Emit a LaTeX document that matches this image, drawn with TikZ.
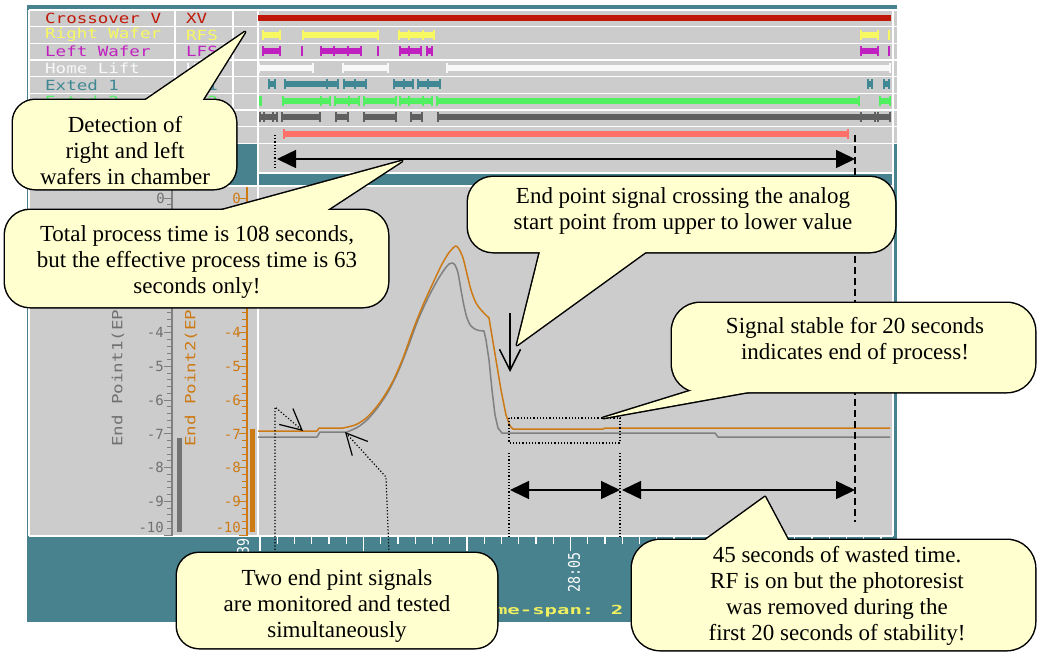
\documentclass[tikz,border=0pt]{standalone}
\usepackage{fontspec}
\usepackage{graphicx}
\setmainfont{Liberation Serif}
\newfontfamily\scrfont{DejaVu Sans Mono}
\usetikzlibrary{arrows.meta}

% screen colours
\definecolor{frame}{RGB}{72,130,142}
\definecolor{panel}{RGB}{204,204,204}
\definecolor{xvred}{RGB}{192,24,8}
\definecolor{rfy}{RGB}{248,248,96}
\definecolor{lfm}{RGB}{192,32,192}
\definecolor{hlw}{RGB}{248,248,248}
\definecolor{exa}{RGB}{64,136,148}
\definecolor{exb}{RGB}{80,240,96}
\definecolor{dkg}{RGB}{96,96,96}
\definecolor{sal}{RGB}{255,112,104}
\definecolor{epA}{RGB}{128,128,128}
\definecolor{epAtxt}{RGB}{112,112,112}
\definecolor{epB}{RGB}{204,122,20}
\definecolor{spanyel}{RGB}{240,240,96}
\definecolor{note}{RGB}{255,255,208}

% widened screen lettering
\newcommand\wide[2][1.25]{\scalebox{#1}[1]{#2}}
% one active segment of a track: colour, row centre, start, end
\newcommand\trkseg[4]{%
  \fill[#1] (#3,#2-3) rectangle (#4,#2+3);
  \fill[#1] (#3,#2-5) rectangle (#3+2,#2+5);
  \fill[#1] (#4-2,#2-5) rectangle (#4,#2+5);}
% tick inside a track segment
\newcommand\trktick[3]{\fill[#1] (#3-1,#2-5) rectangle (#3+1,#2+5);}
% speech bubble: body path, tail path
\newcommand\bubble[2]{%
  \draw[bubbleedge] #1; \draw[bubbleedge] #2;
  \fill[note] #1; \fill[note] #2;}
\newcommand\bubbleplain[1]{%
  \draw[bubbleedge] #1; \fill[note] #1;}

\begin{document}
\begin{tikzpicture}[x=1pt,y=-1pt,
  scr/.style={font=\scrfont\fontsize{14}{14}\selectfont, inner sep=0pt, anchor=west},
  axl/.style={font=\scrfont\fontsize{14}{14}\selectfont, inner sep=0pt, anchor=east},
  grid/.style={white, line width=1.5pt},
  bubbleedge/.style={draw=black, line width=3pt, line join=round},
  bubbletext/.style={font=\fontsize{23}{26}\selectfont, align=center, inner sep=0pt},
  dotline/.style={line width=1.2pt, dash pattern=on 1.2pt off 2pt},
  dimarrow/.style={line width=1.5pt, {Triangle[length=19pt,width=18pt]}-{Triangle[length=19pt,width=18pt]}},
  barb/.style={-{Straight Barb[length=21pt,width=21pt]}},
  trace/.style={line width=1.5pt, line join=round}]
\fill[white] (0,0) rectangle (1040,659);
\useasboundingbox (0,0) rectangle (1040,659);

% ---------- window frame and panels ----------
\fill[frame] (27,5) rectangle (897,622);
\fill[panel] (29,10) rectangle (897,143);
\fill[panel] (258,143) rectangle (893,173);
\fill[panel] (29,186) rectangle (893,536);
\foreach \y in {10,26.7,43.3,60,76.7,93.3,110,126.7,143.3}
  \draw[grid] (29,\y) -- (897,\y);
\draw[grid] (258,173) -- (893,173);
\draw[grid] (29,186) -- (893,186);
\draw[grid] (29,536) -- (893,536);
\draw[grid] (29,10) -- (29,536);
\draw[grid] (175,10) -- (175,143);
\draw[grid] (233,10) -- (233,143);
\draw[grid] (258,10) -- (258,536);
\draw[grid] (893,10) -- (893,536);

% ---------- track labels ----------
\node[scr, text=xvred] (nxv) at (45,18.3) {\wide{Crossover V}};
\node[scr, text=xvred] (cxv) at (186,18.3) {\wide{XV}};
\node[scr, text=rfy] (nrf) at (45,35) {\wide{Right Wafer}};
\node[scr, text=rfy] (crf) at (186,35) {\wide{RFS}};
\node[scr, text=lfm] (nlf) at (45,51.7) {\wide{Left Wafer}};
\node[scr, text=lfm] (clf) at (186,51.7) {\wide{LFS}};
\node[scr, text=hlw] (nhl) at (45,68.3) {\wide{Home Lift}};
\node[scr, text=hlw] (chl) at (186,68.3) {\wide{HL}};
\node[scr, text=exa] (nea) at (45,85) {\wide{Exted 1}};
\node[scr, text=exa] (cea) at (186,85) {\wide{EX1}};
\node[scr, text=exb] (neb) at (45,101.7) {\wide{Exted 2}};
\node[scr, text=exb] (ceb) at (186,101.7) {\wide{EX2}};

% ---------- tracks ----------
\fill[xvred] (258,15) rectangle (891,21);
\foreach \a/\b in {262/281,302/379,398/435,860/879,888/890} {\trkseg{rfy}{34.5}{\a}{\b}}
\foreach \t in {409,423} {\trktick{rfy}{34.5}{\t}}
\foreach \a/\b in {262/281,301/303,320/362,377/379,399/422,426/433,860/879,888/890} {\trkseg{lfm}{51}{\a}{\b}}
\foreach \t in {334,348,409} {\trktick{lfm}{51}{\t}}
\foreach \a/\b in {258/314,342/389,446/891} {\trkseg{hlw}{67.5}{\a}{\b}}
\foreach \a/\b in {268/276,284/339,343/367,393/414,417/441,867/873,883/890} {\trkseg{exa}{84}{\a}{\b}}
\foreach \t in {327,355,404,428} {\trktick{exa}{84}{\t}}
\foreach \a/\b in {259/262,282/331,334/360,363/397,399/433,436/860,879/891} {\trkseg{exb}{100.5}{\a}{\b}}
\foreach \t in {321,349,409,423} {\trktick{exb}{100.5}{\t}}
\foreach \a/\b in {259/278,281/321,335/349,363/397,410/423,437/891} {\trkseg{dkg}{117}{\a}{\b}}
\foreach \t in {264,273,861,875,878} {\trktick{dkg}{117}{\t}}
\trkseg{sal}{134}{283}{849}

% ---------- vertical scales ----------
\draw[epA, line width=1.2pt] (172,187) -- (172,536);
\draw[epB, line width=1.2pt] (247,187) -- (247,536);
\foreach \j in {0,...,50} {
  \draw[epA, line width=1pt] (167,198+6.74*\j) -- (172,198+6.74*\j);
  \draw[epB, line width=1pt] (242,198+6.74*\j) -- (247,198+6.74*\j);}
\foreach \k in {0,...,10} {
  \draw[epA, line width=1pt] (164,198+33.7*\k) -- (172,198+33.7*\k);
  \draw[epB, line width=1pt] (239,198+33.7*\k) -- (247,198+33.7*\k);}
\node[axl, text=epAtxt] (ga0) at (165,198) {0};
\node[axl, text=epB] (gb0) at (241,198) {0};
\foreach \k in {4,...,9} {
  \node[axl, text=epAtxt] (ga\k) at (164,198+33.7*\k) {-\k};
  \node[axl, text=epB] (gb\k) at (241,198+33.7*\k) {-\k};}
\node[axl, text=epAtxt] (ga10) at (164,527) {-10};
\node[axl, text=epB] (gb10) at (241,527) {-10};
\fill[epA!90!black] (177,438) rectangle (182,532);
\fill[epB] (250,429) rectangle (255,532);
\node[scr, text=epAtxt, rotate=90] (tta) at (118,447) {\wide[1.25]{End Point1(EP1)}};
\node[scr, text=epB, rotate=90] (ttb) at (191,447) {\wide[1.25]{End Point2(EP2)}};

% ---------- time axis ----------
\foreach \i in {0,...,36} {
  \draw[white, line width=1.3pt] (260+17.25*\i,537) -- (260+17.25*\i,544);}
\foreach \i in {0,...,6} {
  \draw[white, line width=1.3pt] (260+103.5*\i,537) -- (260+103.5*\i,551);}
\node[font=\scrfont\fontsize{16}{16}\selectfont, text=white, inner sep=0pt, rotate=90, anchor=east] (tl0) at (243,538) {\wide[0.83]{27:39}};
\node[font=\scrfont\fontsize{16}{16}\selectfont, text=white, inner sep=0pt, rotate=90] (tl1) at (574,572) {\wide[0.83]{28:05}};
\node[font=\scrfont\bfseries\fontsize{12.5}{12.5}\selectfont, text=spanyel, inner sep=0pt, anchor=west] (span) at (470,611) {\wide[1.65]{Time-span: 2}};

% ---------- end point traces ----------
\draw[trace, epA] (258,437) -- (317,437) -- (320,432) -- (347,432)
  -- plot[smooth, tension=0.5] coordinates {(347,432) (358,427) (368,419) (378,407) (388,392) (398,372) (408,347) (418,320) (428,298) (437,281) (444,270) (449,264) (452,263) (455,265) (458,273) (461,290) (464,306) (467,318) (471,326) (477,330) (484,331)}
  -- (486,340) -- (489,360) -- (492,390) -- (495,415) -- (498,428) -- (502,433) -- (715,433) -- (718,437) -- (890,437);
\draw[trace, epB] (258,431) -- (317,431) -- (319,428) -- (343,428)
  -- plot[smooth, tension=0.5] coordinates {(343,428) (355,425) (365,419) (374,410) (383,398) (393,381) (403,358) (413,330) (423,305) (433,283) (441,266) (448,254) (453,248) (456,246) (459,249) (463,258) (467,274) (471,290) (476,303) (482,311) (489,318)}
  -- (491,330) -- (496,360) -- (501,390) -- (506,415) -- (510,426) -- (513,429) -- (603,429) -- (605,428) -- (890,428);

% ---------- timing marks ----------
\coordinate (tstart) at (277,159);
\coordinate (tend) at (855,159);
\coordinate (ra) at (510,490);
\coordinate (rb) at (620,490);
\coordinate (rc) at (622,490);
\coordinate (rd) at (855,490);
\draw[dotline] (275,135) -- (275,168);
\draw[black, line width=1.3pt, dash pattern=on 7pt off 4pt] (855,135) -- (855,522);
\draw[dotline] (509,418) rectangle (620,443);
\draw[dotline] (509,453) -- (509,537);
\draw[dotline] (620,453) -- (620,537);
\draw[dimarrow] (tstart) -- (tend);
\draw[dimarrow] (ra) -- (rb);
\draw[dimarrow] (rc) -- (rd);

% pointers to the two traces
\coordinate (pa0) at (275,553);
\coordinate (pa1) at (275,407);
\coordinate (pa2) at (303,431);
\coordinate (pb0) at (389,553);
\coordinate (pb1) at (386,477);
\coordinate (pb2) at (345,432);
\draw[dotline, barb] (pa0) -- (pa1) -- (pa2);
\draw[dotline, barb] (pb0) -- (pb1) -- (pb2);
\coordinate (dn0) at (510,313);
\coordinate (dn1) at (510,372);
\draw[line width=1.5pt, barb] (dn0) -- (dn1);

% ---------- speech bubbles ----------
\bubble{[rounded corners=22pt] (13,100) rectangle (236,189)}{(140,104) -- (245,32) -- (200,104) -- cycle}
\node[bubbletext] (detect) at (125,151) {Detection of\\right and left\\wafers in chamber};

\bubble{[rounded corners=25pt] (5,210) rectangle (388,307)}{(208,214) -- (402,161) -- (321,214) -- cycle}
\node[bubbletext] (total) at (197,262) {Total process time is 108 seconds,\\but the effective process time is 63\\seconds only!};

\bubble{[rounded corners=25pt] (468,177) rectangle (895,252)}{(541,248) -- (517,345) -- (651,248) -- cycle}
\node[bubbletext] (crossing) at (683,211) {End point signal crossing the analog\\start point from upper to lower value};

\bubble{[rounded corners=28pt] (672,303) rectangle (1035,392)}{(700,388) -- (603,418) -- (770,388) -- cycle}
\node[bubbletext] (stable) at (855,341) {Signal stable for 20 seconds\\indicates end of process!};

\bubbleplain{[rounded corners=22pt] (177,553) rectangle (497,648)}
\node[bubbletext] (twoep) at (337,606) {Two end pint signals\\are monitored and tested\\simultaneously};

\bubble{[rounded corners=28pt] (632,540) rectangle (1035,650)}{(700,544) -- (765,497) -- (790,544) -- cycle}
\node[bubbletext] (wasted) at (837,596) {45 seconds of wasted time.\\RF is on but the photoresist\\was removed during the\\first 20 seconds of stability!};
\end{tikzpicture}
\end{document}
